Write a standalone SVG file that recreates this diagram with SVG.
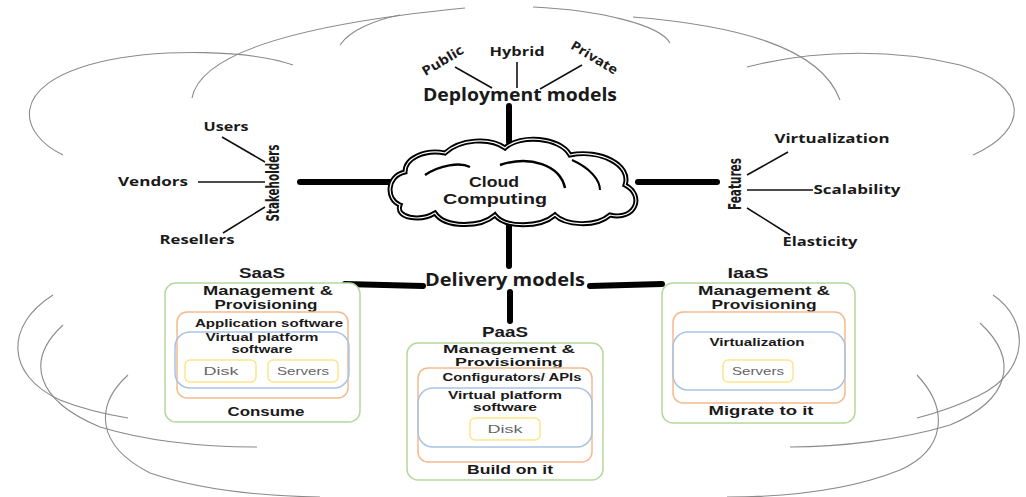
<svg xmlns="http://www.w3.org/2000/svg" width="1026" height="497" viewBox="0 0 1026 497">
<style>
.bg{fill:none;stroke:#8a8a8a;stroke-width:1.1}
.thick{stroke:#000;stroke-width:6;stroke-linecap:round;fill:none}
.thin{stroke:#111;stroke-width:1.6;fill:none}
.t{font-family:"Open Sans","Liberation Sans",sans-serif;font-weight:bold;fill:#1a1a1a;text-anchor:middle}
.l{font-family:"Liberation Sans",Arial,sans-serif;font-weight:bold;fill:#1a1a1a;text-anchor:middle}
.c{font-family:"DejaVu Sans Condensed","DejaVu Sans",sans-serif;font-weight:bold;fill:#1a1a1a;text-anchor:middle}
.g{font-family:"Liberation Sans",Arial,sans-serif;fill:#666;text-anchor:middle;font-size:11px}
.green{fill:#fff;stroke:#b5d89c;stroke-width:1.5}
.orange{fill:none;stroke:#f5b98e;stroke-width:1.5}
.blue{fill:none;stroke:#a9c4e2;stroke-width:1.5}
.yellow{fill:#fff;stroke:#fde58a;stroke-width:1.5}
</style>
<rect width="1026" height="497" fill="#fff"/>
<g id="background-arcs">
<path class="bg" d="M63,155 C20,135 5,85 100,62 C160,48 250,50 293,65"/>
<path class="bg" d="M192,98 C200,55 290,25 465,8"/>
<path class="bg" d="M340,45 C350,30 375,20 400,15"/>
<path class="bg" d="M533,7 C600,10 660,25 670,43"/>
<path class="bg" d="M633,17 C730,25 820,45 840,100"/>
<path class="bg" d="M747,67 C820,48 900,50 960,65 C1030,85 1030,130 973,155"/>
<path class="bg" d="M53,295 C5,325 5,375 60,400 C85,410 110,415 128,418"/>
<path class="bg" d="M63,325 C25,360 35,400 100,427 C150,442 210,447 257,447"/>
<path class="bg" d="M128,375 C95,405 95,445 150,473 C200,490 260,496 320,497"/>
<path class="bg" d="M993,295 C1030,320 1030,370 980,395 C960,405 940,412 917,418"/>
<path class="bg" d="M980,323 C1020,360 1010,400 950,425 C900,440 840,447 790,447"/>
<path class="bg" d="M917,375 C950,410 945,450 900,470 C850,490 790,497 727,497"/>
</g>
<g id="connectors">
<line class="thick" x1="509" y1="106" x2="509" y2="142"/>
<line class="thick" x1="509" y1="220" x2="509" y2="266"/>
<line class="thick" x1="300" y1="182" x2="393" y2="182"/>
<line class="thick" x1="638" y1="182" x2="717" y2="182"/>
<line class="thick" x1="345" y1="284" x2="423" y2="286"/>
<line class="thick" x1="590" y1="286" x2="662" y2="284"/>
<line class="thick" x1="510" y1="292" x2="510" y2="321"/>
<line class="thin" x1="455" y1="67" x2="492" y2="88"/>
<line class="thin" x1="517" y1="62" x2="517" y2="88"/>
<line class="thin" x1="582" y1="65" x2="540" y2="89"/>
<line class="thin" x1="222" y1="137" x2="265" y2="162"/>
<line class="thin" x1="198" y1="182" x2="265" y2="182"/>
<line class="thin" x1="265" y1="207" x2="223" y2="233"/>
<line class="thin" x1="747" y1="175" x2="788" y2="152"/>
<line class="thin" x1="747" y1="190" x2="813" y2="190"/>
<line class="thin" x1="747" y1="208" x2="790" y2="235"/>
</g>
<g id="cloud-computing">
<path d="M400,205 C386,200 386,176 405,172 C405,158 425,149 445,153 C460,139 490,137 505,148 C520,134 560,137 570,155 C600,149 632,165 625,185 C645,195 636,221 610,215 C595,228 565,225 555,215 C540,228 505,228 495,215 C480,228 445,228 435,213 C420,222 395,218 400,205 Z" fill="#fff" stroke="#000" stroke-width="5"/>
<path d="M400,205 C386,200 386,176 405,172 C405,158 425,149 445,153 C460,139 490,137 505,148 C520,134 560,137 570,155 C600,149 632,165 625,185 C645,195 636,221 610,215 C595,228 565,225 555,215 C540,228 505,228 495,215 C480,228 445,228 435,213 C420,222 395,218 400,205 Z" fill="none" stroke="#fff" stroke-width="1.2"/>
<path d="M425,175 C440,165 460,162 470,167" fill="none" stroke="#000" stroke-width="2.5"/>
<path d="M500,165 C530,155 560,165 565,188" fill="none" stroke="#000" stroke-width="2.5"/>
<path d="M572,160 C590,168 600,180 600,190" fill="none" stroke="#000" stroke-width="2"/>
<text class="l" x="494" y="187" font-size="14.5" textLength="50" lengthAdjust="spacingAndGlyphs">Cloud</text>
<text class="l" x="495" y="204" font-size="14.5" textLength="104" lengthAdjust="spacingAndGlyphs">Computing</text>
</g>
<g id="deployment-models">
<text class="t" x="520" y="101" font-size="17" textLength="194" lengthAdjust="spacingAndGlyphs">Deployment models</text>
<text class="t" x="443" y="65" font-size="13" textLength="46" lengthAdjust="spacingAndGlyphs" transform="rotate(-31 443 61)">Public</text>
<text class="t" x="517" y="56" font-size="13" textLength="55" lengthAdjust="spacingAndGlyphs">Hybrid</text>
<text class="t" x="594" y="62" font-size="13" textLength="52" lengthAdjust="spacingAndGlyphs" transform="rotate(31 594 58)">Private</text>
</g>
<g id="stakeholders">
<text class="c" x="273" y="189" font-size="17" textLength="77" lengthAdjust="spacingAndGlyphs" transform="rotate(-90 273 183)">Stakeholders</text>
<text class="t" x="226" y="131" font-size="13" textLength="45" lengthAdjust="spacingAndGlyphs">Users</text>
<text class="t" x="153" y="186" font-size="13" textLength="70" lengthAdjust="spacingAndGlyphs">Vendors</text>
<text class="t" x="197" y="244" font-size="13" textLength="75" lengthAdjust="spacingAndGlyphs">Resellers</text>
</g>
<g id="features">
<text class="c" x="735" y="190" font-size="17" textLength="52" lengthAdjust="spacingAndGlyphs" transform="rotate(-90 735 184)">Features</text>
<text class="t" x="832" y="143" font-size="13" textLength="115" lengthAdjust="spacingAndGlyphs">Virtualization</text>
<text class="t" x="857" y="194" font-size="13" textLength="87" lengthAdjust="spacingAndGlyphs">Scalability</text>
<text class="t" x="820" y="246" font-size="13" textLength="75" lengthAdjust="spacingAndGlyphs">Elasticity</text>
</g>
<g id="delivery-models">
<text class="t" x="505" y="286" font-size="17" textLength="160" lengthAdjust="spacingAndGlyphs">Delivery models</text>
</g>
<g id="saas">
<text class="l" x="262" y="278" font-size="14" textLength="46" lengthAdjust="spacingAndGlyphs">SaaS</text>
<rect class="green" x="165" y="283" width="195" height="139" rx="11"/>
<text class="l" x="268" y="295" font-size="12" textLength="130" lengthAdjust="spacingAndGlyphs">Management &amp;</text>
<text class="l" x="266" y="309" font-size="12" textLength="103" lengthAdjust="spacingAndGlyphs">Provisioning</text>
<rect class="orange" x="177" y="312" width="171" height="86" rx="10"/>
<text class="l" x="269" y="327" font-size="10.5" textLength="148" lengthAdjust="spacingAndGlyphs">Application software</text>
<rect class="blue" x="175" y="332" width="174" height="56" rx="15"/>
<text class="l" x="262" y="341" font-size="10.5" textLength="113" lengthAdjust="spacingAndGlyphs">Virtual platform</text>
<text class="l" x="262" y="353" font-size="10.5" textLength="61" lengthAdjust="spacingAndGlyphs">software</text>
<rect class="yellow" x="185" y="360" width="71" height="22" rx="5"/>
<text class="g" x="221" y="375" textLength="35" lengthAdjust="spacingAndGlyphs">Disk</text>
<rect class="yellow" x="268" y="360" width="70" height="22" rx="5"/>
<text class="g" x="303" y="375" textLength="52" lengthAdjust="spacingAndGlyphs">Servers</text>
<text class="l" x="266" y="416" font-size="13" textLength="77" lengthAdjust="spacingAndGlyphs">Consume</text>
</g>
<g id="paas">
<text class="l" x="505" y="337" font-size="14" textLength="46" lengthAdjust="spacingAndGlyphs">PaaS</text>
<rect class="green" x="407" y="343" width="196" height="137" rx="11"/>
<text class="l" x="509" y="353" font-size="11.5" textLength="132" lengthAdjust="spacingAndGlyphs">Management &amp;</text>
<text class="l" x="509" y="366" font-size="11.5" textLength="108" lengthAdjust="spacingAndGlyphs">Provisioning</text>
<rect class="orange" x="418" y="368" width="174" height="94" rx="10"/>
<text class="l" x="512" y="381" font-size="10.5" textLength="139" lengthAdjust="spacingAndGlyphs">Configurators/ APIs</text>
<rect class="blue" x="418" y="388" width="174" height="59" rx="15"/>
<text class="l" x="505" y="399" font-size="10.5" textLength="114" lengthAdjust="spacingAndGlyphs">Virtual platform</text>
<text class="l" x="505" y="411" font-size="10.5" textLength="64" lengthAdjust="spacingAndGlyphs">software</text>
<rect class="yellow" x="470" y="418" width="70" height="22" rx="5"/>
<text class="g" x="505" y="433" textLength="35" lengthAdjust="spacingAndGlyphs">Disk</text>
<text class="l" x="510" y="474" font-size="13" textLength="86" lengthAdjust="spacingAndGlyphs">Build on it</text>
</g>
<g id="iaas">
<text class="l" x="748" y="278" font-size="14" textLength="41" lengthAdjust="spacingAndGlyphs">IaaS</text>
<rect class="green" x="662" y="283" width="193" height="140" rx="11"/>
<text class="l" x="764" y="295" font-size="12" textLength="132" lengthAdjust="spacingAndGlyphs">Management &amp;</text>
<text class="l" x="764" y="309" font-size="12" textLength="105" lengthAdjust="spacingAndGlyphs">Provisioning</text>
<rect class="orange" x="673" y="312" width="172" height="91" rx="10"/>
<rect class="blue" x="673" y="332" width="172" height="58" rx="15"/>
<text class="l" x="757" y="346" font-size="11" textLength="95" lengthAdjust="spacingAndGlyphs">Virtualization</text>
<rect class="yellow" x="723" y="360" width="70" height="22" rx="5"/>
<text class="g" x="758" y="375" textLength="52" lengthAdjust="spacingAndGlyphs">Servers</text>
<text class="l" x="761" y="415" font-size="13" textLength="105" lengthAdjust="spacingAndGlyphs">Migrate to it</text>
</g>
</svg>
